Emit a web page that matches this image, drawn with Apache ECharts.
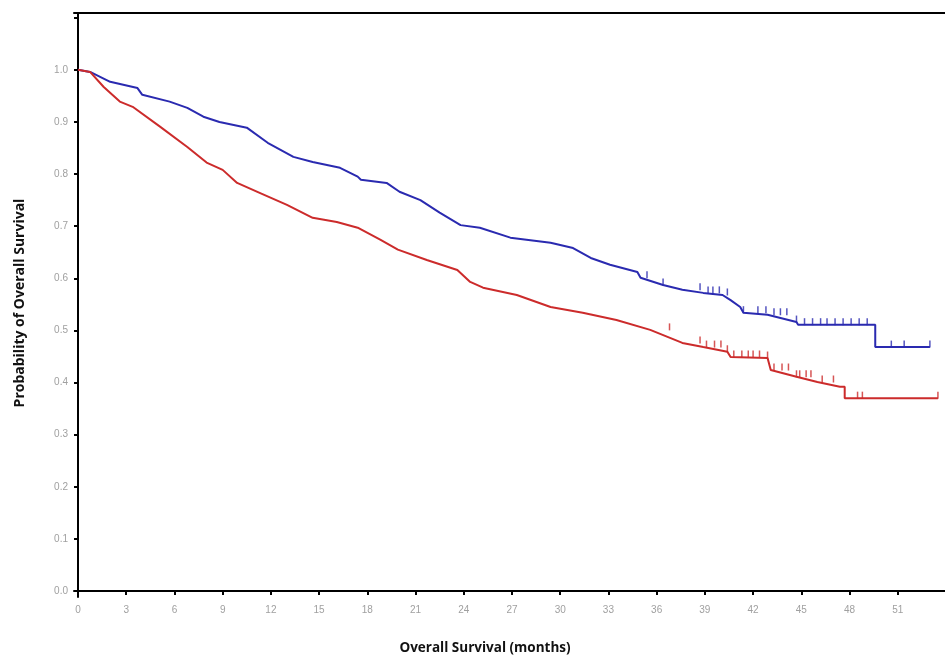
<!DOCTYPE html>
<html>
<head>
<meta charset="utf-8">
<script src="https://cdn.jsdelivr.net/npm/echarts@6/dist/echarts.min.js"></script>
<style>html,body{margin:0;padding:0;background:#fff;overflow:hidden}#c{width:945px;height:657px}</style>
</head>
<body>
<div id="c"></div>
<script>
// Tick labels
const xTicks = [0, 3, 6, 9, 12, 15, 18, 21, 24, 27, 30, 33, 36, 39, 42, 45, 48, 51, 54];
const yTicks = [0, 0.1, 0.2, 0.3, 0.4, 0.5, 0.6, 0.7, 0.8, 0.9, 1.0, 1.1];

// Kaplan-Meier curves: [month, survival probability]
const blueCurve = [
  [0, 1.0], [0.75, 0.996], [2.0, 0.977], [3.7, 0.965], [4.0, 0.952], [5.7, 0.939], [6.8, 0.927],
  [7.8, 0.910], [8.8, 0.900], [10.5, 0.889], [11.8, 0.860], [13.4, 0.833], [14.6, 0.823],
  [16.3, 0.812], [17.4, 0.795], [17.6, 0.789], [19.2, 0.783], [20.0, 0.766], [21.3, 0.750],
  [22.5, 0.726], [23.8, 0.702], [25.0, 0.697], [26.9, 0.678], [29.4, 0.668], [30.8, 0.658],
  [31.9, 0.639], [33.1, 0.626], [34.8, 0.612], [35.0, 0.601], [36.4, 0.587], [37.6, 0.578],
  [38.9, 0.572], [40.1, 0.568], [40.6, 0.558], [41.2, 0.545], [41.4, 0.534], [42.9, 0.530],
  [44.7, 0.516], [44.8, 0.511], [49.6, 0.511], [49.6, 0.468], [53.0, 0.468]
];
const redCurve = [
  [0, 1.0], [0.75, 0.996], [1.6, 0.967], [2.6, 0.939], [3.4, 0.929], [5.1, 0.891], [6.8, 0.852],
  [8.0, 0.822], [9.0, 0.808], [9.9, 0.783], [11.3, 0.764], [13.0, 0.741], [14.6, 0.716],
  [16.1, 0.708], [17.4, 0.697], [18.8, 0.674], [19.9, 0.655], [21.7, 0.635], [23.6, 0.616],
  [24.4, 0.593], [25.2, 0.582], [27.3, 0.568], [29.4, 0.545], [31.4, 0.534], [33.5, 0.520],
  [35.6, 0.501], [37.6, 0.476], [38.9, 0.468], [40.4, 0.459], [40.6, 0.449], [42.9, 0.447],
  [43.1, 0.424], [44.7, 0.411], [46.0, 0.401], [47.4, 0.392], [47.7, 0.392], [47.7, 0.370],
  [53.5, 0.370]
];
// Censoring times (months)
const blueCensors = [35.4, 36.4, 38.7, 39.2, 39.5, 39.9, 40.4, 41.4, 42.3, 42.8, 43.3, 43.7, 44.1, 44.7, 45.2, 45.7, 46.2, 46.6, 47.1, 47.6, 48.1, 48.6, 49.1, 50.6, 51.4, 53.0];
const redCensors = [36.8, 38.7, 39.1, 39.6, 40.0, 40.4, 40.8, 41.3, 41.7, 42.0, 42.4, 42.9, 43.3, 43.8, 44.2, 44.7, 44.9, 45.3, 45.6, 46.3, 47.0, 48.5, 48.8, 53.5];

function valueAt(curve, t) {
  let v = curve[0][1];
  for (const p of curve) { if (p[0] <= t) v = p[1]; else break; }
  return v;
}
const blueMarks = blueCensors.map(t => [t, valueAt(blueCurve, t)]);
const redMarks = redCensors.map(t => [t, valueAt(redCurve, t)]);

const BLUE = '#2a2ab0';
const RED = '#cc2b2b';
const chart = echarts.init(document.getElementById('c'), null, { renderer: 'canvas' });
chart.setOption({
  animation: false,
  backgroundColor: '#ffffff',
  grid: { left: 74, right: 0, top: 13, bottom: 60, containLabel: false },
  xAxis: [{
    type: 'value', min: -0.25, max: 53.94,
    axisLine: { show: true, lineStyle: { color: '#000', width: 2 } },
    axisTick: { show: true, length: 4, lineStyle: { color: '#000', width: 2 }, customValues: xTicks },
    axisLabel: { color: '#a0a0a0', fontSize: 10, fontFamily: 'Liberation Sans', margin: 8, customValues: xTicks },
    splitLine: { show: false }
  }, {
    type: 'value', position: 'top', min: -0.25, max: 53.94,
    axisLine: { show: true, lineStyle: { color: '#000', width: 2 } },
    axisTick: { show: false }, axisLabel: { show: false }, splitLine: { show: false }
  }],
  yAxis: {
    type: 'value', min: -0.0115, max: 1.109,
    axisLine: { show: true, lineStyle: { color: '#000', width: 2 } },
    axisTick: { show: true, length: 4, lineStyle: { color: '#000', width: 2 }, customValues: yTicks },
    axisLabel: {
      color: '#a0a0a0', fontSize: 10, fontFamily: 'Liberation Sans', margin: 6, customValues: yTicks,
      formatter: v => (v > 1.05 ? '' : v.toFixed(1))
    },
    splitLine: { show: false }
  },
  graphic: [
    { type: 'text', x: 485, y: 648, style: { text: 'Overall Survival (months)', align: 'center', verticalAlign: 'middle', font: 'bold 13.5px "Open Sans"', fill: '#111' } },
    { type: 'text', rotation: Math.PI / 2, x: 20, y: 303, style: { text: 'Probability of Overall Survival', align: 'center', verticalAlign: 'middle', font: 'bold 14px "Open Sans"', fill: '#111' } }
  ],
  series: [
    { type: 'line', data: blueCurve, symbol: 'none', lineStyle: { color: BLUE, width: 2 }, z: 3 },
    { type: 'line', data: redCurve, symbol: 'none', lineStyle: { color: RED, width: 2 }, z: 3 },
    { type: 'scatter', data: blueMarks, symbol: 'rect', symbolSize: [1.5, 7], symbolOffset: [0, -3], itemStyle: { color: BLUE }, z: 4 },
    { type: 'scatter', data: redMarks, symbol: 'rect', symbolSize: [1.5, 7], symbolOffset: [0, -3], itemStyle: { color: RED }, z: 4 }
  ]
});
</script>
</body>
</html>
